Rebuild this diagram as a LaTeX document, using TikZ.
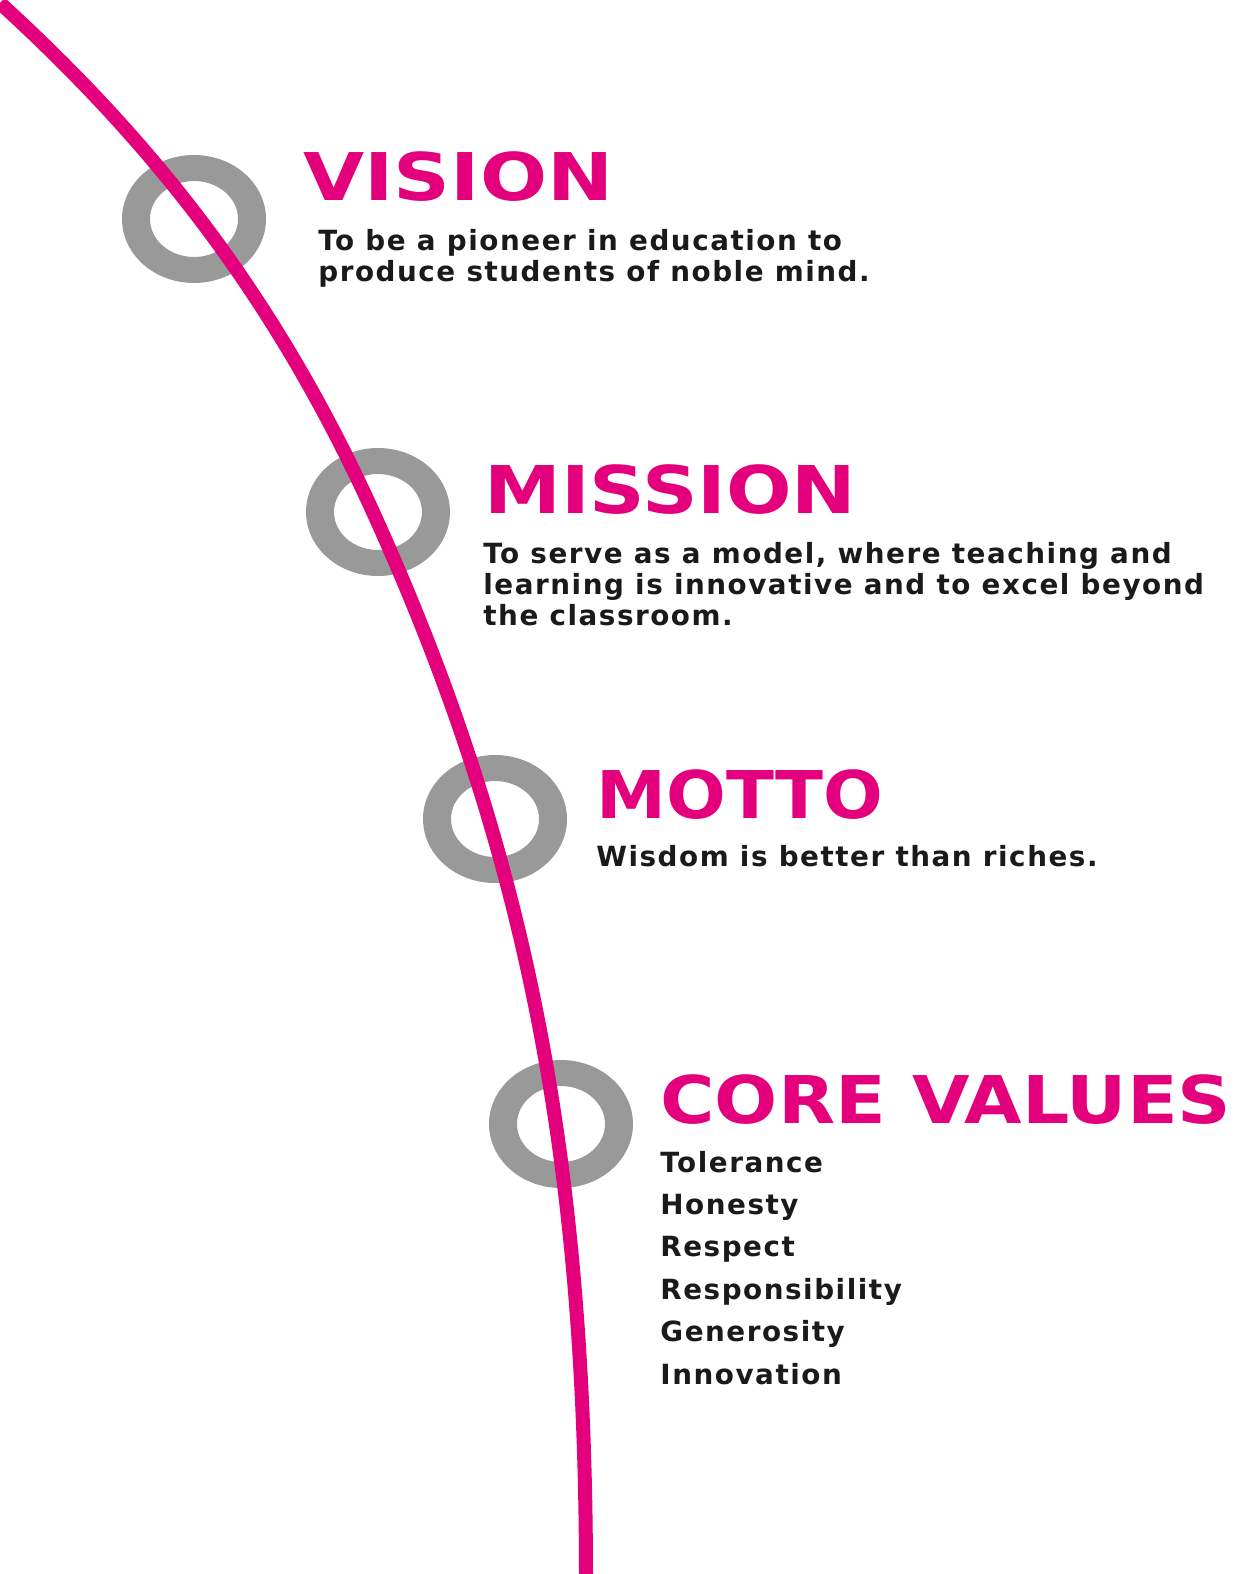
\documentclass[tikz,border=0pt]{standalone}
\usepackage{fontspec}
\usepackage{graphicx}
\usepackage{tikz}
\usetikzlibrary{calc, positioning}

\setmainfont{DejaVu Sans}
\newfontfamily\headfont{DejaVu Sans}
\newfontfamily\bodyfont{DejaVu Sans}[LetterSpace=5.5]

\definecolor{lineink}{HTML}{E4007C}
\definecolor{ringgray}{HTML}{999999}
\definecolor{textink}{HTML}{1A1A1A}

% heading squeezed/stretched to a given width, height kept
\newcommand{\headword}[2]{\resizebox{#1}{\height}{#2}}

\begin{document}
\begin{tikzpicture}[x=0.5pt, y=-0.5pt]

    % Global styles
    \tikzset{
        ring/.style={fill=ringgray, even odd rule},
        arc line/.style={draw=lineink, line width=7pt, line cap=butt},
        heading/.style={anchor=base west, inner sep=0pt, text=lineink,
            font=\headfont\bfseries\fontsize{32.9}{36}\selectfont},
        body/.style={anchor=base west, inner sep=0pt, text=textink, align=left,
            font=\bodyfont\bfseries\fontsize{13.9}{15.5}\selectfont}
    }

    \useasboundingbox (0,0) rectangle (1233,1574);

    % Ring centres
    \coordinate (vis) at (194,219);
    \coordinate (mis) at (378,512);
    \coordinate (mot) at (495,819);
    \coordinate (cor) at (561,1124);

    % Grey rings
    \foreach \c in {vis, mis, mot, cor} {
        \fill[ring] (\c) ellipse [x radius=36pt, y radius=32pt]
                    (\c) ellipse [x radius=22pt, y radius=19pt];
    }

    % Pink arc through the rings
    \coordinate (top) at (0,3);
    \coordinate (bend) at (373,512);
    \coordinate (foot) at (586,1580);
    \draw[arc line] (top) .. controls (150,140) and (273,292) .. (bend)
                          .. controls (523,842) and (586,1150) .. (foot);

    % VISION (base = last line)
    \node[heading] (hvis) at (303,200) {\headword{155pt}{VISION}};
    \node[body] (bvis) at (318,281)
        {To be a pioneer in education to\\produce students of noble mind.};

    % MISSION
    \node[heading] (hmis) at (484,513) {\headword{186pt}{MISSION}};
    \node[body] (bmis) at (483,625)
        {To serve as a model, where teaching and\\learning is innovative and to excel beyond\\the classroom.};

    % MOTTO
    \node[heading] (hmot) at (596,818) {\headword{143.5pt}{MOTTO}};
    \node[body] (bmot) at (596,866) {Wisdom is better than riches.};

    % CORE VALUES
    \node[heading] (hcor) at (660,1123) {\headword{285.5pt}{CORE VALUES}};
    \foreach \v [count=\i from 0] in {Tolerance, Honesty, Respect,
                                      Responsibility, Generosity, Innovation} {
        \node[body] (val\i) at (660,1172+42.4*\i) {\v};
    }

\end{tikzpicture}
\end{document}
